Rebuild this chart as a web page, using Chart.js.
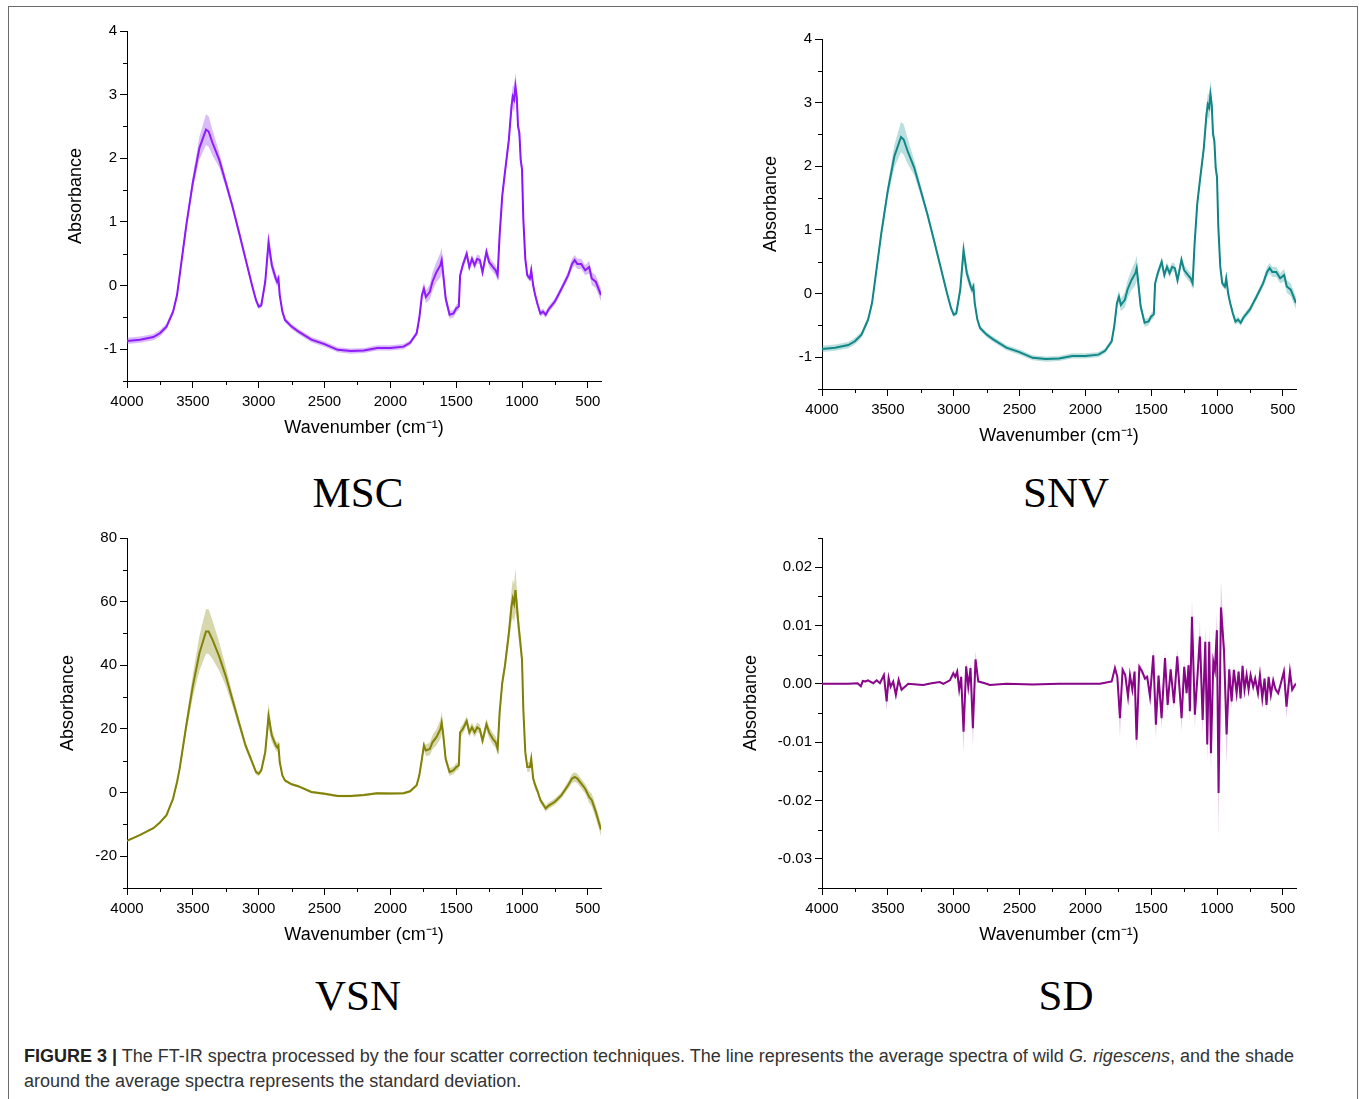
<!DOCTYPE html>
<html>
<head>
<meta charset="utf-8">
<title>FT-IR spectra, four scatter corrections</title>
<script src="https://cdn.jsdelivr.net/npm/chart.js@4.4.1/dist/chart.umd.min.js"></script>
<style>
  body { margin: 0; background: #fff; width: 1360px; height: 1099px; position: relative; overflow: hidden;
         font-family: "Liberation Sans", Arial, sans-serif; }
  .frame { position: absolute; left: 8px; top: 6px; width: 1348px; height: 1200px; border: 1px solid #6b6b6b; }
  canvas { position: absolute; }
  .label { position: absolute; font-family: "Liberation Serif", "Times New Roman", serif; font-size: 43px;
           color: #000; transform: translate(-50%, -50%); white-space: nowrap; }
  .caption { position: absolute; left: 24px; top: 1044px; font-size: 18px; line-height: 25px; color: #333; white-space: nowrap; }
</style>
</head>
<body>
<div class="frame"></div>

<canvas id="mscChart" width="550" height="424" style="left:61px;top:19px"></canvas>
<canvas id="snvChart" width="550" height="424" style="left:756px;top:27px"></canvas>
<canvas id="vsnChart" width="558" height="424" style="left:53px;top:526px"></canvas>
<canvas id="sdChart" width="570" height="424" style="left:736px;top:526px"></canvas>

<div class="label" style="left:358px;top:492px">MSC</div>
<div class="label" style="left:1066px;top:492px">SNV</div>
<div class="label" style="left:358px;top:995px">VSN</div>
<div class="label" style="left:1066px;top:995px">SD</div>

<div class="caption"><b style="color:#222">FIGURE 3 |</b> The FT-IR spectra processed by the four scatter correction techniques. The line represents the average spectra of wild <i>G. rigescens</i>, and the shade<br>around the average spectra represents the standard deviation.</div>

<script>
const wavenumbers = [4000, 3900, 3800, 3750, 3700, 3650, 3620, 3600, 3550, 3500,
  3450, 3400, 3380, 3350, 3300, 3250, 3200, 3150, 3100, 3050,
  3020, 3000, 2980, 2950, 2925, 2900, 2870, 2860, 2850, 2840,
  2820, 2800, 2750, 2700, 2600, 2500, 2400, 2300, 2200, 2100,
  2000, 1900, 1850, 1800, 1780, 1760, 1745, 1730, 1700, 1680,
  1650, 1620, 1610, 1600, 1580, 1550, 1520, 1500, 1480, 1470,
  1450, 1420, 1400, 1380, 1360, 1340, 1320, 1300, 1270, 1250,
  1220, 1200, 1185, 1170, 1150, 1130, 1100, 1080, 1070, 1060,
  1050, 1040, 1030, 1020, 1010, 1000, 990, 975, 960, 940,
  930, 915, 900, 880, 860, 840, 820, 800, 750, 700,
  650, 620, 600, 580, 550, 520, 490, 470, 440, 400];

const mscMean = [-0.87, -0.85, -0.81, -0.75, -0.645, -0.41, -0.15, 0.16, 0.94, 1.62,
  2.16, 2.45, 2.42, 2.24, 1.98, 1.62, 1.25, 0.84, 0.42, 0.0,
  -0.23, -0.33, -0.31, 0.06, 0.68, 0.32, 0.11, 0.06, 0.11, -0.15,
  -0.41, -0.54, -0.645, -0.72, -0.85, -0.92, -1.01, -1.03, -1.02, -0.98,
  -0.98, -0.96, -0.90, -0.75, -0.51, -0.15, -0.05, -0.18, -0.10, 0.06,
  0.21, 0.32, 0.40, 0.21, -0.20, -0.46, -0.44, -0.36, -0.33, 0.16,
  0.32, 0.50, 0.29, 0.42, 0.32, 0.42, 0.40, 0.21, 0.53, 0.37,
  0.29, 0.24, 0.16, 0.79, 1.41, 1.77, 2.29, 2.81, 2.97, 2.92,
  3.13, 2.97, 2.50, 2.40, 1.98, 1.83, 1.05, 0.42, 0.16, 0.11,
  0.24, 0.0, -0.15, -0.31, -0.44, -0.41, -0.46, -0.38, -0.25, -0.05,
  0.16, 0.34, 0.40, 0.34, 0.34, 0.24, 0.29, 0.11, 0.06, -0.15];
const mscStd = [0.05, 0.05, 0.05, 0.05, 0.05, 0.05, 0.05, 0.06, 0.08, 0.1,
  0.18, 0.24, 0.24, 0.2, 0.12, 0.08, 0.06, 0.06, 0.05, 0.04,
  0.04, 0.04, 0.04, 0.08, 0.18, 0.1, 0.08, 0.08, 0.08, 0.06,
  0.04, 0.04, 0.04, 0.04, 0.04, 0.04, 0.04, 0.04, 0.04, 0.04,
  0.04, 0.04, 0.04, 0.04, 0.05, 0.08, 0.1, 0.1, 0.12, 0.14,
  0.16, 0.19, 0.2, 0.14, 0.08, 0.06, 0.06, 0.06, 0.06, 0.06,
  0.07, 0.07, 0.07, 0.07, 0.07, 0.07, 0.07, 0.07, 0.08, 0.08,
  0.08, 0.08, 0.1, 0.08, 0.08, 0.08, 0.1, 0.15, 0.18, 0.2,
  0.22, 0.18, 0.12, 0.1, 0.1, 0.1, 0.06, 0.05, 0.05, 0.05,
  0.08, 0.05, 0.05, 0.05, 0.05, 0.05, 0.05, 0.05, 0.05, 0.05,
  0.06, 0.08, 0.08, 0.08, 0.08, 0.08, 0.1, 0.1, 0.1, 0.1];

const snvMean = [-0.87, -0.85, -0.81, -0.75, -0.645, -0.41, -0.15, 0.16, 0.94, 1.62,
  2.16, 2.46, 2.42, 2.24, 1.98, 1.62, 1.25, 0.84, 0.42, 0.0,
  -0.23, -0.33, -0.31, 0.06, 0.68, 0.32, 0.11, 0.06, 0.11, -0.15,
  -0.41, -0.54, -0.645, -0.72, -0.85, -0.92, -1.01, -1.03, -1.02, -0.98,
  -0.98, -0.96, -0.90, -0.75, -0.51, -0.15, -0.05, -0.18, -0.10, 0.06,
  0.21, 0.32, 0.40, 0.21, -0.20, -0.46, -0.44, -0.36, -0.33, 0.16,
  0.32, 0.50, 0.29, 0.42, 0.32, 0.42, 0.40, 0.21, 0.53, 0.37,
  0.29, 0.24, 0.16, 0.79, 1.41, 1.77, 2.29, 2.81, 2.97, 2.92,
  3.13, 2.97, 2.50, 2.40, 1.98, 1.83, 1.05, 0.42, 0.16, 0.11,
  0.24, 0.0, -0.15, -0.31, -0.44, -0.41, -0.46, -0.38, -0.25, -0.05,
  0.16, 0.34, 0.40, 0.34, 0.34, 0.24, 0.29, 0.11, 0.06, -0.15];
const snvStd = [0.05, 0.05, 0.05, 0.05, 0.05, 0.05, 0.05, 0.06, 0.08, 0.1,
  0.18, 0.24, 0.24, 0.2, 0.12, 0.08, 0.06, 0.06, 0.05, 0.04,
  0.04, 0.04, 0.04, 0.08, 0.18, 0.1, 0.08, 0.08, 0.08, 0.06,
  0.04, 0.04, 0.04, 0.04, 0.04, 0.04, 0.04, 0.04, 0.04, 0.04,
  0.04, 0.04, 0.04, 0.04, 0.05, 0.08, 0.1, 0.1, 0.12, 0.14,
  0.16, 0.19, 0.2, 0.14, 0.08, 0.06, 0.06, 0.06, 0.06, 0.06,
  0.07, 0.07, 0.07, 0.07, 0.07, 0.07, 0.07, 0.07, 0.08, 0.08,
  0.08, 0.08, 0.1, 0.08, 0.08, 0.08, 0.1, 0.15, 0.18, 0.2,
  0.22, 0.18, 0.12, 0.1, 0.1, 0.1, 0.06, 0.05, 0.05, 0.05,
  0.08, 0.05, 0.05, 0.05, 0.05, 0.05, 0.05, 0.05, 0.05, 0.05,
  0.06, 0.08, 0.08, 0.08, 0.08, 0.08, 0.1, 0.1, 0.1, 0.1];

const vsnMean = [-15.2, -13.3, -11.2, -9.4, -7.1, -1.9, 3.3, 7.5, 21, 33.5,
  43.8, 50.6, 50.6, 48, 42.8, 36.6, 29.3, 22, 14.8, 9.6,
  6.4, 5.9, 7, 12.7, 24.1, 17.9, 14.8, 14.2, 14.8, 9.6,
  5.4, 3.8, 2.6, 2.0, 0.2, -0.4, -1.1, -1.1, -0.8, -0.2,
  -0.3, -0.2, 0.4, 2.3, 5.4, 10.6, 14.8, 13.2, 13.7, 15.8,
  17.4, 19.9, 22, 18.9, 10.6, 6.4, 7, 8, 8.5, 18.9,
  19.9, 22.5, 18.9, 20.5, 18.9, 20.5, 19.9, 16.3, 21.5, 18.9,
  16.8, 15.8, 13.7, 25.1, 34.5, 39.7, 50, 58.4, 61, 59.4,
  63.6, 59.4, 54.2, 50, 45.9, 41.8, 26.2, 12.7, 8, 8,
  10.6, 4.4, 2.3, 0.2, -2.4, -3.7, -5, -4.2, -2.9, -0.8,
  2.3, 4.4, 4.9, 4.4, 2.8, 1.2, -1.4, -2.4, -6, -11.7];
const vsnStd = [0.3, 0.3, 0.3, 0.3, 0.4, 0.5, 0.8, 1, 2, 3.5,
  5.5, 7, 7, 6, 4.5, 3, 2, 1.5, 1.2, 1,
  0.8, 0.8, 0.8, 1.5, 4, 2, 1.5, 1.5, 1.5, 1,
  0.5, 0.4, 0.4, 0.4, 0.4, 0.4, 0.4, 0.4, 0.4, 0.4,
  0.4, 0.4, 0.4, 0.5, 1, 1.5, 1.5, 1.8, 2, 2.2,
  2.5, 3, 3.5, 2.5, 1.5, 1.2, 1.2, 1.2, 1.2, 1.5,
  1.5, 1.5, 1.5, 1.5, 1.5, 1.5, 1.5, 1.5, 1.8, 1.8,
  1.8, 1.8, 2, 2, 2, 2, 3, 5, 6, 6,
  7, 5, 4, 3, 3, 3, 2, 1.5, 1.5, 1.5,
  1.5, 1.2, 1.2, 1, 1, 1, 1, 1, 1, 1,
  1.2, 1.5, 1.5, 1.5, 1.5, 1.5, 1.8, 2, 2, 2];

// SD panel is much spikier, so it gets its own wavenumber list
const sdWave = [4000, 3900, 3800, 3730, 3705, 3690, 3670, 3650, 3636, 3611,
  3585, 3560, 3530, 3509, 3494, 3479, 3459, 3439, 3418, 3396,
  3370, 3345, 3282, 3231, 3168, 3105, 3079, 3029, 3003, 2988,
  2973, 2958, 2943, 2925, 2905, 2889, 2872, 2854, 2834, 2813,
  2763, 2725, 2600, 2400, 2200, 2000, 1889, 1800, 1775, 1757,
  1737, 1717, 1697, 1676, 1661, 1643, 1626, 1611, 1590, 1568,
  1547, 1530, 1509, 1484, 1464, 1444, 1421, 1395, 1375, 1352,
  1327, 1302, 1269, 1249, 1231, 1216, 1206, 1190, 1168, 1147,
  1130, 1109, 1089, 1074, 1059, 1046, 1028, 1016, 1001, 988,
  970, 947, 927, 907, 889, 872, 851, 836, 821, 806,
  791, 775, 760, 745, 725, 710, 689, 674, 656, 639,
  624, 608, 591, 573, 555, 535, 515, 492, 472, 446,
  429, 408, 400];
const sdMean = [0, 0, 0, 0.0001, -0.0004, 0.0005, 0.0004, 0.0006, 0.0004, 0.0001,
  0.0006, 0.0001, 0.0015, -0.003, 0.001, -0.0005, 0.0004, -0.0019, 0.0007, -0.001,
  -0.0005, 0.0, -0.0001, -0.0002, 0.0001, 0.0003, 0.0, 0.0006, 0.0018, 0.0012,
  0.0021, -0.001, 0.0012, -0.0082, 0.003, -0.0005, 0.0027, -0.0076, 0.0042, 0.0004,
  0.0001, -0.0002, 0.0, -0.0001, 0.0, 0.0, 0.0, 0.0004, 0.0027, 0.0012,
  -0.0059, 0.0024, 0.0015, -0.0022, 0.0015, -0.001, 0.0021, -0.0096, 0.0029, 0.0021,
  0.0009, 0.0012, -0.0022, 0.0049, -0.007, 0.0014, -0.0059, 0.0044, -0.0036, 0.0025,
  -0.0033, 0.0047, -0.0059, 0.0029, -0.0016, 0.0032, -0.0047, 0.0115, -0.0053, 0.0018,
  0.0081, -0.0062, 0.0072, -0.0104, 0.0072, -0.0119, 0.0038, 0.0024, 0.0092, -0.0187,
  0.0131, 0.0058, -0.0087, 0.0025, -0.003, 0.0024, -0.0016, 0.0021, -0.0025, 0.0031,
  -0.001, 0.0015, -0.001, 0.0015, -0.0005, 0.0009, -0.0016, 0.0015, -0.0025, 0.0009,
  -0.0036, 0.0012, -0.0019, 0.0006, -0.001, -0.0016, 0.0001, 0.0021, -0.0039, 0.0021,
  -0.001, -0.0002, 0.0];
const sdStd = [0.0001, 0.0001, 0.0001, 0.0001, 0.0002, 0.0002, 0.0002, 0.0002, 0.0002, 0.0002,
  0.0002, 0.0002, 0.0005, 0.0017, 0.0004, 0.0003, 0.0003, 0.0007, 0.0003, 0.0004,
  0.0002, 0.0001, 0.0001, 0.0001, 0.0001, 0.0001, 0.0001, 0.0002, 0.0006, 0.0005,
  0.0007, 0.0006, 0.0005, 0.0036, 0.0009, 0.0004, 0.0009, 0.0032, 0.0015, 0.0002,
  0.0001, 0.0001, 0.0001, 0.0001, 0.0001, 0.0001, 0.0001, 0.0002, 0.0006, 0.0004,
  0.0033, 0.0006, 0.0005, 0.0008, 0.0005, 0.0004, 0.0006, 0.0018, 0.0008, 0.0006,
  0.0004, 0.0004, 0.0008, 0.0012, 0.0025, 0.0005, 0.0018, 0.0012, 0.0012, 0.0007,
  0.0011, 0.0014, 0.0022, 0.0009, 0.0006, 0.0011, 0.0018, 0.003, 0.0022, 0.0007,
  0.0028, 0.0025, 0.0025, 0.003, 0.0025, 0.0032, 0.0012, 0.001, 0.003, 0.0078,
  0.0045, 0.002, 0.0052, 0.0009, 0.0011, 0.0008, 0.0006, 0.0007, 0.0008, 0.0009,
  0.0004, 0.0005, 0.0004, 0.0005, 0.0003, 0.0003, 0.0005, 0.0005, 0.0008, 0.0003,
  0.0011, 0.0004, 0.0006, 0.0003, 0.0004, 0.0005, 0.0002, 0.0008, 0.0021, 0.0007,
  0.0004, 0.0004, 0.0003];

// tick positions
const xTicks = [4000, 3500, 3000, 2500, 2000, 1500, 1000, 500];
const xMinor = [3750, 3250, 2750, 2250, 1750, 1250, 750];
const absTicks = [-1, 0, 1, 2, 3, 4];
const absMinor = [-1.5, -0.5, 0.5, 1.5, 2.5, 3.5];
const vsnTicks = [-20, 0, 20, 40, 60, 80];
const vsnMinor = [-30, -10, 10, 30, 50, 70];
const sdTicks = [-0.03, -0.02, -0.01, 0, 0.01, 0.02];
const sdMinor = [-0.035, -0.025, -0.015, -0.005, 0.005, 0.015, 0.025];

const FONT = '"Liberation Sans", Arial, sans-serif';
// leading no-break spaces nudge the rotated title a little above the axis middle, like the original
const Y_TITLE = '\u00A0\u00A0\u00A0\u00A0Absorbance';

// short unlabeled ticks between the major ones
const minorTicks = {
    id: 'minorTicks',
    afterDraw(chart, args, opts) {
        const c = chart.ctx;
        const xs = chart.scales.x, ys = chart.scales.y;
        c.save();
        c.strokeStyle = '#000';
        c.lineWidth = 1;
        c.beginPath();
        (opts.x || []).forEach(v => {
            const px = Math.round(xs.getPixelForValue(v)) + 0.5;
            c.moveTo(px, xs.top);
            c.lineTo(px, xs.top + 4);
        });
        (opts.y || []).forEach(v => {
            const py = Math.round(ys.getPixelForValue(v)) + 0.5;
            c.moveTo(ys.right, py);
            c.lineTo(ys.right - 4, py);
        });
        c.stroke();
        c.restore();
    }
};

function drawSpectrum(id, wave, mean, std, lineColor, shadeColor, y) {
    const upper = wave.map((w, i) => ({ x: w, y: mean[i] + std[i] }));
    const lower = wave.map((w, i) => ({ x: w, y: mean[i] - std[i] }));
    const avg = wave.map((w, i) => ({ x: w, y: mean[i] }));

    return new Chart(document.getElementById(id).getContext('2d'), {
        type: 'line',
        data: {
            datasets: [
                { data: upper, borderWidth: 0, pointRadius: 0, fill: false },
                { data: lower, borderWidth: 0, pointRadius: 0, fill: '-1', backgroundColor: shadeColor },
                { data: avg, borderColor: lineColor, borderWidth: 2, pointRadius: 0, fill: false, tension: 0 }
            ]
        },
        options: {
            responsive: false,
            animation: false,
            devicePixelRatio: 1,
            layout: { padding: { top: 10, right: 10, left: 0, bottom: 0 } },
            plugins: {
                legend: { display: false },
                tooltip: { enabled: false },
                minorTicks: { x: xMinor, y: y.minor }
            },
            scales: {
                x: {
                    type: 'linear',
                    reverse: true,
                    min: 400,
                    max: 4000,
                    afterBuildTicks: s => { s.ticks = xTicks.map(v => ({ value: v })); },
                    afterFit: s => { s.height = 62; },
                    grid: { drawOnChartArea: false, drawTicks: true, tickLength: 7, tickColor: '#000' },
                    border: { display: true, color: '#000', width: 1 },
                    ticks: { color: '#000', font: { family: FONT, size: 15 }, padding: 5, maxRotation: 0,
                             callback: v => String(v) },
                    title: {
                        display: true,
                        text: 'Wavenumber (cm\u207B\u00B9)',
                        color: '#000',
                        font: { family: FONT, size: 18 }
                    }
                },
                y: {
                    min: y.min,
                    max: y.max,
                    afterBuildTicks: s => { s.ticks = y.ticks.map(v => ({ value: v })); },
                    afterFit: s => { s.width = y.width; },
                    grid: { drawOnChartArea: false, drawTicks: true, tickLength: 7, tickColor: '#000' },
                    border: { display: true, color: '#000', width: 1 },
                    ticks: { color: '#000', font: { family: FONT, size: 15 }, padding: 3, callback: y.format },
                    title: {
                        display: true,
                        text: Y_TITLE,
                        color: '#000',
                        font: { family: FONT, size: 18 }
                    }
                }
            }
        },
        plugins: [minorTicks]
    });
}

document.addEventListener('DOMContentLoaded', () => {
    const absAxis = { min: -1.5, max: 4, ticks: absTicks, minor: absMinor, width: 66, format: v => String(v) };

    drawSpectrum('mscChart', wavenumbers, mscMean, mscStd, '#8a0cff', 'rgba(150, 60, 240, 0.35)', absAxis);
    drawSpectrum('snvChart', wavenumbers, snvMean, snvStd, '#0e8281', 'rgba(30, 150, 150, 0.3)', absAxis);
    drawSpectrum('vsnChart', wavenumbers, vsnMean, vsnStd, '#7d7d00', 'rgba(140, 140, 20, 0.35)',
        { min: -30, max: 80, ticks: vsnTicks, minor: vsnMinor, width: 74, format: v => String(v) });
    drawSpectrum('sdChart', sdWave, sdMean, sdStd, '#860086', 'rgba(150, 30, 150, 0.25)',
        { min: -0.035, max: 0.025, ticks: sdTicks, minor: sdMinor, width: 86, format: v => v.toFixed(2) });
});
</script>
</body>
</html>
